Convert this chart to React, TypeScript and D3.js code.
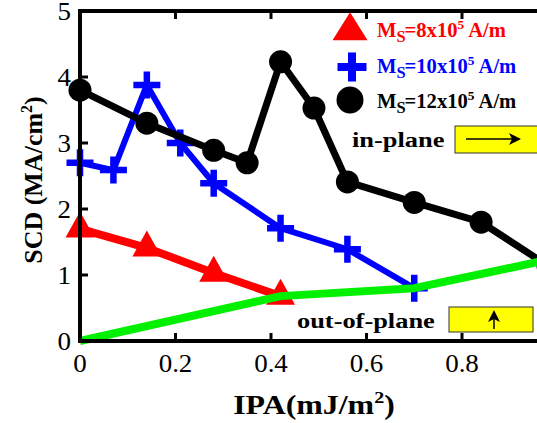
import React from "react";
import * as d3 from "d3";

const xTicks = [0, 0.2, 0.4, 0.6, 0.8, 1.0];
const xTickLabels = ["0", "0.2", "0.4", "0.6", "0.8"];
const yTicks = [0, 1, 2, 3, 4, 5];

const ms8X = [0, 0.14, 0.28, 0.42];
const ms8Y = [1.7, 1.41, 1.03, 0.68];

const ms10X = [0, 0.07, 0.14, 0.21, 0.28, 0.42, 0.56, 0.7];
const ms10Y = [2.7, 2.59, 3.88, 3.0, 2.39, 1.71, 1.39, 0.8];

const ms12X = [0, 0.14, 0.28, 0.35, 0.42, 0.49, 0.56, 0.7, 0.84, 0.98];
const ms12Y = [3.8, 3.3, 2.89, 2.7, 4.23, 3.53, 2.41, 2.1, 1.8, 1.14];

const boundX = [0, 0.42, 0.7, 0.98];
const boundY = [0, 0.68, 0.8, 1.23];

const legendLabels = ["8", "10", "12"];

const W = 537;
const H = 423;

const x = d3.scaleLinear().domain([0, 1]).range([80, 557.5]);
const y = d3.scaleLinear().domain([0, 5]).range([341, 11]);

const zip = (xs: number[], ys: number[]) => xs.map((v, i) => [v, ys[i]] as [number, number]);
const line = d3
  .line<[number, number]>()
  .x((d) => x(d[0]))
  .y((d) => y(d[1]));

const serif = "'Liberation Serif', 'Times New Roman', serif";

function Triangle({ cx, cy, w, h }: { cx: number; cy: number; w: number; h: number }) {
  const top = cy - (h * 2) / 3;
  const bot = cy + h / 3;
  return <path d={`M${cx},${top}L${cx + w / 2},${bot}L${cx - w / 2},${bot}Z`} fill="#ff0000" />;
}

function Plus({ cx, cy, s, sw }: { cx: number; cy: number; s: number; sw: number }) {
  return (
    <path
      d={`M${cx - s / 2},${cy}H${cx + s / 2}M${cx},${cy - s / 2}V${cy + s / 2}`}
      stroke="#0000ff"
      strokeWidth={sw}
      fill="none"
    />
  );
}

function MsLabel({ xx, yy, val, color }: { xx: number; yy: number; val: string; color: string }) {
  return (
    <text
      transform={`translate(${xx},${yy}) scale(1.03,1)`}
      fill={color}
      fontFamily={serif}
      fontWeight="bold"
      fontSize={20}
    >
      M
      <tspan fontSize={16} dy={5}>
        S
      </tspan>
      <tspan dx={-1} dy={-5}>{`=${val}x10`}</tspan>
      <tspan fontSize={13} dy={-8}>
        5
      </tspan>
      <tspan dy={8}>{" A/m"}</tspan>
    </text>
  );
}

export default function App() {
  const red = zip(ms8X, ms8Y);
  const blue = zip(ms10X, ms10Y);
  const black = zip(ms12X, ms12Y);
  const green = zip(boundX, boundY);
  return (
    <svg
      width={W}
      height={H}
      style={{ position: "absolute", left: 0, top: 0, background: "#fff", overflow: "hidden" }}
    >
      {/* data */}
      <path d={line(blue) || ""} stroke="#0000ff" strokeWidth={6} fill="none" strokeLinejoin="round" />
      {blue.map((d, i) => (
        <Plus key={"b" + i} cx={x(d[0])} cy={y(d[1])} s={27} sw={6.5} />
      ))}
      <path d={line(black) || ""} stroke="#000" strokeWidth={7} fill="none" strokeLinejoin="round" />
      {black.map((d, i) => (
        <circle key={"k" + i} cx={x(d[0])} cy={y(d[1])} r={11.5} fill="#000" />
      ))}
      <path d={line(red) || ""} stroke="#ff0000" strokeWidth={8} fill="none" strokeLinejoin="round" />
      {red.map((d, i) => (
        <Triangle key={"r" + i} cx={x(d[0])} cy={y(d[1])} w={29} h={26} />
      ))}
      <path d={line(green) || ""} stroke="#00f000" strokeWidth={8} fill="none" strokeLinejoin="round" />

      {/* axes frame */}
      <path d={`M${x(0)},${y(5)}H${W + 10}`} stroke="#000" strokeWidth={4} fill="none" />
      <path d={`M${x(0)},${y(5) - 2}V${y(0) + 2}`} stroke="#000" strokeWidth={4} fill="none" />
      <path d={`M${x(0) - 2},${y(0)}H${W + 10}`} stroke="#000" strokeWidth={4} fill="none" />
      {xTicks.map((t) => (
        <g key={"xt" + t}>
          <line x1={x(t)} x2={x(t)} y1={y(0)} y2={y(0) - 8} stroke="#000" strokeWidth={3} />
          <line x1={x(t)} x2={x(t)} y1={y(5)} y2={y(5) + 8} stroke="#000" strokeWidth={3} />
        </g>
      ))}
      {xTickLabels.map((lab, i) => (
        <text
          key={"xl" + i}
          transform={`translate(${x(xTicks[i])},${y(0) + 31}) scale(1.08,1)`}
          textAnchor="middle"
          fontFamily={serif}
          fontSize={25}
          fill="#000"
        >
          {lab}
        </text>
      ))}
      {yTicks.map((t) => (
        <g key={"yt" + t}>
          <line x1={x(0)} x2={x(0) + 8} y1={y(t)} y2={y(t)} stroke="#000" strokeWidth={3} />
          <text
            transform={`translate(${x(0) - 9},${y(t) + 9}) scale(1.08,1)`}
            textAnchor="end"
            fontFamily={serif}
            fontSize={25}
            fill="#000"
          >
            {String(t)}
          </text>
        </g>
      ))}

      {/* axis titles */}
      <text
        transform="translate(314,414) scale(1.18,1)"
        textAnchor="middle"
        fontFamily={serif}
        fontWeight="bold"
        fontSize={27}
        fill="#000"
      >
        IPA
        <tspan>(mJ/m</tspan>
        <tspan fontSize={17} dy={-11}>
          2
        </tspan>
        <tspan dy={11}>)</tspan>
      </text>
      <text
        transform="translate(42,180) rotate(-90)"
        textAnchor="middle"
        fontFamily={serif}
        fontWeight="bold"
        fontSize={26}
        fill="#000"
      >
        SCD (MA/cm
        <tspan fontSize={16} dy={-10}>
          2
        </tspan>
        <tspan dy={10}>)</tspan>
      </text>

      {/* legend */}
      <Triangle cx={350} cy={31} w={35} h={28} />
      <MsLabel xx={377} yy={37} val={legendLabels[0]} color="#ff0000" />
      <Plus cx={352} cy={67} s={29} sw={8} />
      <MsLabel xx={377} yy={73} val={legendLabels[1]} color="#0000ff" />
      <circle cx={350} cy={100} r={13.5} fill="#000" />
      <MsLabel xx={377} yy={108} val={legendLabels[2]} color="#000" />

      {/* in-plane annotation */}
      <text
        transform="translate(352,147) scale(1.2,1)"
        fontFamily={serif}
        fontWeight="bold"
        fontSize={22}
        fill="#000"
      >
        in-plane
      </text>
      <rect x={455} y={126} width={100} height={27} fill="#ffff00" stroke="#333" strokeWidth={1} />
      <line x1={466} x2={515} y1={139} y2={139} stroke="#000" strokeWidth={1.5} />
      <path d="M521,139 L509,133 L512,139 L509,145 Z" fill="#000" />

      {/* out-of-plane annotation */}
      <text
        transform="translate(297,328) scale(1.2,1)"
        fontFamily={serif}
        fontWeight="bold"
        fontSize={22}
        fill="#000"
      >
        out-of-plane
      </text>
      <rect x={449} y={307} width={84} height={25} fill="#ffff00" stroke="#333" strokeWidth={1} />
      <line x1={494} x2={494} y1={329} y2={316} stroke="#000" strokeWidth={1.5} />
      <path d="M494,310 L488,322 L494,319 L500,322 Z" fill="#000" />
    </svg>
  );
}
